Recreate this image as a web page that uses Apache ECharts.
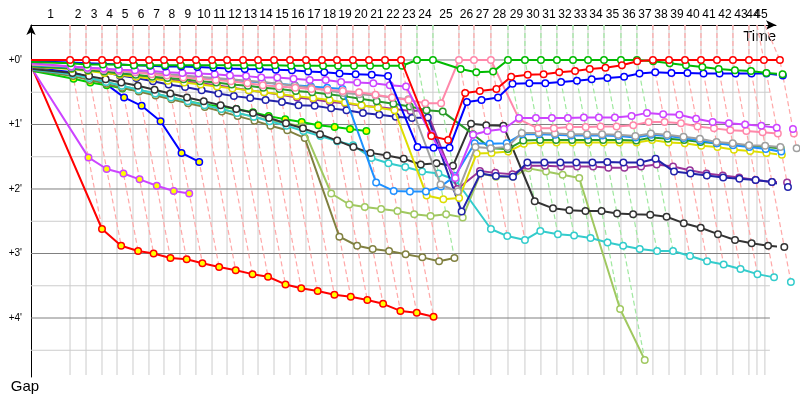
<!DOCTYPE html>
<html><head><meta charset="utf-8">
<script src="https://cdn.jsdelivr.net/npm/echarts@6/dist/echarts.min.js"></script>
<style>html,body{margin:0;padding:0;background:#fff}#c{width:800px;height:400px}</style>
</head><body><div id="c"></div>
<script>
// ---- data (times and gaps in minutes) ----
const lapNumbers = [1,2,3,4,5,6,7,8,9,10,11,12,13,14,15,16,17,18,19,20,21,22,23,24,25,26,27,28,29,30,31,32,33,34,35,36,37,38,39,40,41,42,43,44,45];
// lap end times on the time axis (index 0 = start)
const axisLapEnd = [0,3.20,4.51,5.82,7.05,8.36,9.67,10.90,12.21,13.52,14.84,16.07,17.38,18.61,19.92,21.23,22.54,23.85,25.08,26.39,27.70,29.02,30.33,31.64,32.95,35.08,36.31,37.70,39.10,40.49,41.80,43.11,44.43,45.66,46.97,48.36,49.67,50.98,52.30,53.61,54.92,56.23,57.54,58.85,59.51,60.16];
// leader reference times used for the cars' crossings
const refLapEnd = [0,3.20,4.51,5.82,7.05,8.36,9.67,10.90,12.21,13.52,14.84,16.07,17.38,18.61,19.92,21.23,22.54,23.85,25.08,26.39,27.70,29.02,30.33,31.64,32.95,35.08,36.31,37.70,39.10,40.49,41.80,43.11,44.43,45.66,46.97,48.36,49.67,50.98,52.30,53.61,54.92,56.23,57.54,58.85,60.08,61.39];
// lap line kind: r = normal lap, g = neutralised lap
const lapKind = ['r','r','r','r','r','r','r','r','r','r','r','r','r','r','r','r','r','r','r','r','r','r','g','g','r','r','r','g','g','g','g','g','g','g','g','g','r','r','r','r','r','r','r','r','r'];
const gapTicks = [0,1,2,3,4];
const gapGrid = [0,0.5,1,1.5,2,2.5,3,3.5,4,4.5];

const gapRed = [0, 0,0,0,0,0,0,0,0,0,0, 0,0,0,0,0,0,0,0,0,0, 0,0, 1.18,1.24,0.51,0.48,0.45,0.26,0.23,0.22,0.19,0.17,0.14,0.12,0.08,0.02, 0,0,0,0,0,0,0,0,0];
const gapGreen = [0.03, 0.05,0.07,0.07,0.07,0.08,0.08,0.08,0.08,0.08,0.08, 0.08,0.08,0.08,0.08,0.09,0.09,0.09,0.09,0.09,0.09, 0.09,0.09, 0,0, 0.14,0.19,0.18, 0,0,0,0,0,0,0,0,0, 0.02,0.05,0.08,0.11,0.14,0.16,0.17,0.2,0.22];
const gapBlue = [0.02, 0.04,0.05,0.06,0.07,0.08,0.09,0.1,0.1,0.11,0.12, 0.13,0.14,0.145,0.15,0.16,0.18,0.19,0.21,0.22,0.23, 0.25, 1.35,1.36,1.36, 0.65,0.62,0.58, 0.37,0.36,0.36,0.34,0.32,0.30,0.28,0.26,0.21, 0.19,0.2,0.2,0.21,0.21,0.21,0.21,0.21,0.24];
const gapViolet = [0.05, 0.1,0.12,0.13,0.15,0.16,0.17,0.19,0.2,0.21,0.22, 0.24,0.25,0.27,0.27,0.29,0.31,0.31,0.34,0.35,0.36, 0.39,0.41, 1.15,1.83, 1.16,1.1,1.07, 0.9,0.9,0.9,0.9,0.89,0.89,0.89,0.87,0.82, 0.84,0.85,0.91,0.96,0.98,1.0,1.02,1.05,1.07];
const gapPink = [0.07, 0.1,0.13,0.15,0.17,0.19,0.22,0.24,0.27,0.29,0.31, 0.33,0.36,0.39,0.41,0.43,0.45,0.46,0.48,0.5,0.54, 0.58,0.62, 0.67,0.67, 0,0,0, 0.92,1.06,1.06,1.04,1.04,1.03,1.03,1.01,0.96, 0.96,0.98,1.03,1.06,1.09,1.1,1.12,1.14,1.14];
const gapGray = [0.07, 0.1,0.12,0.14,0.16,0.18,0.2,0.22,0.24,0.26,0.28, 0.3,0.32,0.34,0.37,0.4,0.43,0.47,0.51,0.53,0.55, 0.58,0.61, 1.93,2.04, 1.35,1.37,1.35, 1.13,1.13,1.14,1.15,1.15,1.15,1.16,1.18,1.14, 1.16,1.19,1.22,1.27,1.29,1.32,1.33,1.35,1.37];
const gapLightBlue = [0.08, 0.11,0.13,0.15,0.17,0.19,0.21,0.23,0.25,0.27,0.29, 0.31,0.33,0.35,0.37,0.39,0.41,0.43,0.45, 1.9,2.03, 2.04,2.04, 1.96,1.8, 1.29,1.3,1.29, 1.15,1.15,1.16,1.17,1.17,1.17,1.18,1.2,1.16, 1.18,1.21,1.25,1.29,1.32,1.35,1.38,1.42];
const gapDarkGreen = [0.1, 0.13,0.16,0.18,0.21,0.23,0.26,0.28,0.3,0.33,0.35, 0.38,0.4,0.43,0.45,0.48,0.5,0.53,0.56,0.6,0.64, 0.68,0.72, 0.78,0.8, 1.15,1.37,1.38, 1.25,1.24,1.24,1.24,1.24,1.24,1.24,1.25,1.2, 1.22,1.24,1.27,1.29,1.31,1.33,1.35,1.37];
const gapYellow = [0.11, 0.14,0.17,0.2,0.23,0.26,0.29,0.32,0.35,0.38,0.41, 0.44,0.47,0.5,0.53,0.56,0.59,0.62,0.66,0.7,0.74, 0.78, 2.1,2.16,2.14, 1.45,1.44,1.42, 1.3,1.28,1.28,1.28,1.28,1.28,1.28,1.28,1.24, 1.28,1.29,1.33,1.35,1.39,1.41,1.44,1.47];
const gapNavy = [0.12, 0.1,0.14,0.19,0.24,0.28,0.33,0.38,0.42,0.47,0.52, 0.56,0.59,0.62,0.65,0.7,0.71,0.75,0.78,0.82,0.85, 0.88,0.9, 0.89,2.35, 1.76,1.8,1.81, 1.59,1.59,1.59,1.59,1.59,1.58,1.59,1.59,1.53, 1.73,1.76,1.79,1.82,1.84,1.86,1.89,1.97];
const gapMagenta = [0.1, 0.12,0.15,0.18,0.21,0.24,0.27,0.3,0.33,0.36,0.39, 0.43,0.47,0.5,0.54,0.58,0.61,0.65,0.67,0.71,0.73, 0.76,0.79, 0.78,2.0, 1.72,1.75,1.77, 1.64,1.64,1.65,1.65,1.65,1.67,1.67,1.65,1.62, 1.65,1.71,1.76,1.79,1.82,1.86,1.89,1.9];
const gapBlack = [0.14, 0.2,0.25,0.3,0.35,0.4,0.46,0.52,0.58,0.64,0.7, 0.76,0.82,0.9,0.98,1.06,1.15,1.25,1.35,1.44,1.48, 1.53,1.62, 1.6,1.64, 0.99,1.01,1.02, 2.19,2.3,2.33,2.34,2.34,2.38,2.39,2.4,2.43, 2.53,2.6,2.7,2.79,2.84,2.88,2.9];
const gapCyan = [0.15, 0.22,0.28,0.34,0.4,0.46,0.52,0.58,0.64,0.7,0.76, 0.82,0.88,0.95,1.02,1.1,1.18,1.26,1.32,1.52,1.6, 1.66,1.73, 1.76,1.86, 2.62,2.73,2.79, 2.65,2.7,2.72,2.76,2.83,2.88,2.93,2.96,2.96, 3.04,3.12,3.17,3.24,3.32,3.37,3.44];
const gapOlive = [0.16, 0.25,0.31,0.37,0.43,0.49,0.55,0.61,0.67,0.73,0.8, 0.87,0.94,1.02,1.09,1.21,2.74,2.88,2.93,2.96,3.01, 3.06,3.12, 3.07];
const gapYellowGreen = [0.13, 0.22,0.28,0.34,0.4,0.46,0.52,0.58,0.64,0.7,0.76, 0.82,0.88,0.93,0.98,1.03,2.07,2.24,2.28,2.31,2.34, 2.39,2.42, 2.39,2.44, 1.76,1.81,1.81, 1.68,1.73,1.78,1.83,3.86,4.65];
const gapGreenOut = [0.17, 0.29,0.35,0.39,0.44,0.48,0.53,0.58,0.64,0.69,0.72, 0.76,0.81,0.87,0.92,0.96,1.01,1.04,1.07,1.1];
const gapBlueOut = [0.12, 0.19,0.27,0.38,0.58,0.71,0.95,1.44,1.58];
const gapVioletOut = [0.16, 1.51,1.69,1.76,1.85,1.95,2.03,2.07];
const gapRedOut = [0.14, 2.62,2.88,2.96,3.0,3.07,3.09,3.15,3.21,3.26,3.32, 3.36,3.48,3.54,3.58,3.64,3.67,3.72,3.78,3.89,3.92, 3.98];

// ---- styling of the series ----
const cars = [
  {gaps: gapRedOut, color:'#ff0000', fill:'#ffff00'},
  {gaps: gapVioletOut, color:'#cc44ff', fill:'#ffff00'},
  {gaps: gapBlueOut, color:'#0000ff', fill:'#ffff00'},
  {gaps: gapGreenOut, color:'#00cc00', fill:'#ffff00'},
  {gaps: gapOlive, color:'#808040', fill:'#ffffff'},
  {gaps: gapYellowGreen, color:'#a0c860', fill:'#ffffff'},
  {gaps: gapCyan, color:'#33cccc', fill:'#ffffff'},
  {gaps: gapBlack, color:'#333333', fill:'#ffffff'},
  {gaps: gapMagenta, color:'#993399', fill:'#ffffff'},
  {gaps: gapNavy, color:'#2222aa', fill:'#ffffff'},
  {gaps: gapYellow, color:'#dddd00', fill:'#ffffff'},
  {gaps: gapDarkGreen, color:'#2a9a2a', fill:'#ffffff'},
  {gaps: gapLightBlue, color:'#1e90ff', fill:'#ffffff'},
  {gaps: gapGray, color:'#a0a0a0', fill:'#ffffff'},
  {gaps: gapPink, color:'#ff88aa', fill:'#ffffff'},
  {gaps: gapViolet, color:'#cc44ff', fill:'#ffffff'},
  {gaps: gapBlue, color:'#0000ff', fill:'#ffffff'},
  {gaps: gapGreen, color:'#00bb00', fill:'#ffffff'},
  {gaps: gapRed, color:'#ff0000', fill:'#ffffff'}
];

const Y_MIN = -0.5426, Y_MAX = 4.9147, X_MAX = 61.07;
const GRID_Y_END = 4.884, GRID_X_END = 60.57;

const lapMid = lapNumbers.map((n) => (axisLapEnd[n - 1] + axisLapEnd[n]) / 2);
function lapLabel(v) {
  for (let i = 0; i < lapMid.length; i++) if (Math.abs(lapMid[i] - v) < 1e-6) return String(lapNumbers[i]);
  return '';
}
// odd and even lap labels go on two overlaid axes so touching labels are all kept
const oddLapMid = lapMid.filter((m, i) => lapNumbers[i] % 2 === 1);
const evenLapMid = lapMid.filter((m, i) => lapNumbers[i] % 2 === 0);

// grid lines
const gridLines = [];
lapNumbers.forEach((n) => gridLines.push({coords: [[axisLapEnd[n], Y_MIN], [axisLapEnd[n], GRID_Y_END]], lineStyle: {color: '#cccccc'}}));
gapGrid.forEach((g) => gridLines.push({coords: [[0, g], [GRID_X_END, g]], lineStyle: {color: Number.isInteger(g) ? '#808080' : '#cccccc'}}));

// lap lines: from the lap crossing on the time axis through all cars of that lap
const lapLines = lapNumbers.map((n, i) => {
  let gmax = 0;
  cars.forEach((c) => { if (c.gaps.length > n && c.gaps[n] > gmax) gmax = c.gaps[n]; });
  return {
    coords: [[axisLapEnd[n], Y_MIN], [refLapEnd[n], 0], [refLapEnd[n] + gmax, gmax]],
    lineStyle: {color: lapKind[i] === 'g' ? '#a0e8a0' : '#ffa8a8'}
  };
});

const FONT = 'Liberation Sans';
const series = [
  {type: 'lines', coordinateSystem: 'cartesian2d', polyline: true, silent: true, z: 1, clip: false,
   lineStyle: {width: 1, opacity: 1}, data: gridLines},
  {type: 'lines', coordinateSystem: 'cartesian2d', polyline: true, silent: true, z: 2, clip: false,
   lineStyle: {width: 1.2, type: [5, 3], opacity: 1}, data: lapLines}
];
cars.forEach((c, i) => {
  series.push({
    type: 'line', z: 3 + i, clip: false, silent: true,
    symbol: 'circle', symbolSize: 6.5, showSymbol: true,
    lineStyle: {color: c.color, width: 2},
    itemStyle: {color: c.fill, borderColor: c.color, borderWidth: 1.5},
    emphasis: {disabled: true},
    data: c.gaps.map((g, k) => k === 0 ? {value: [refLapEnd[0] + g, g], symbol: 'none'} : [refLapEnd[k] + g, g])
  });
});

const lapLabelStyle = {formatter: lapLabel, color: '#000', fontSize: 12, fontFamily: FONT, margin: 4,
                       hideOverlap: false, showMinLabel: true, showMaxLabel: true};

const chart = echarts.init(document.getElementById('c'), null, {renderer: 'canvas'});
chart.setOption({
  animation: false,
  backgroundColor: '#ffffff',
  grid: {left: 31, top: 25, width: 745, height: 352, containLabel: false, outerBoundsMode: 'none'},
  xAxis: [{
    type: 'value', position: 'top', min: 0, max: X_MAX,
    axisLine: {show: true, onZero: false, symbol: ['none', 'arrow'], symbolSize: [7, 10], lineStyle: {color: '#000', width: 1}},
    axisTick: {show: false},
    splitLine: {show: false},
    axisLabel: Object.assign({customValues: oddLapMid}, lapLabelStyle),
    name: 'Time', nameLocation: 'end', nameGap: 0,
    nameTextStyle: {align: 'right', verticalAlign: 'top', fontSize: 15, color: '#000', fontFamily: FONT, padding: [4, 0, 0, 0]}
  }, {
    type: 'value', position: 'top', offset: 0, min: 0, max: X_MAX,
    axisLine: {show: false, onZero: false},
    axisTick: {show: false},
    splitLine: {show: false},
    axisLabel: Object.assign({customValues: evenLapMid}, lapLabelStyle)
  }],
  yAxis: {
    type: 'value', inverse: true, min: Y_MIN, max: Y_MAX,
    axisLine: {show: true, onZero: false, symbol: ['none', 'arrow'], symbolSize: [7, 10], lineStyle: {color: '#000', width: 1}},
    axisTick: {show: false},
    splitLine: {show: false},
    axisLabel: {customValues: gapTicks, formatter: (v) => "+" + v + "'", color: '#000', fontSize: 10, fontFamily: FONT, margin: 9},
    name: 'Gap', nameLocation: 'end', nameGap: 2,
    nameTextStyle: {align: 'center', verticalAlign: 'top', fontSize: 15, color: '#000', fontFamily: FONT, padding: [0, 12, 0, 0]}
  },
  series: series
});
</script></body></html>
